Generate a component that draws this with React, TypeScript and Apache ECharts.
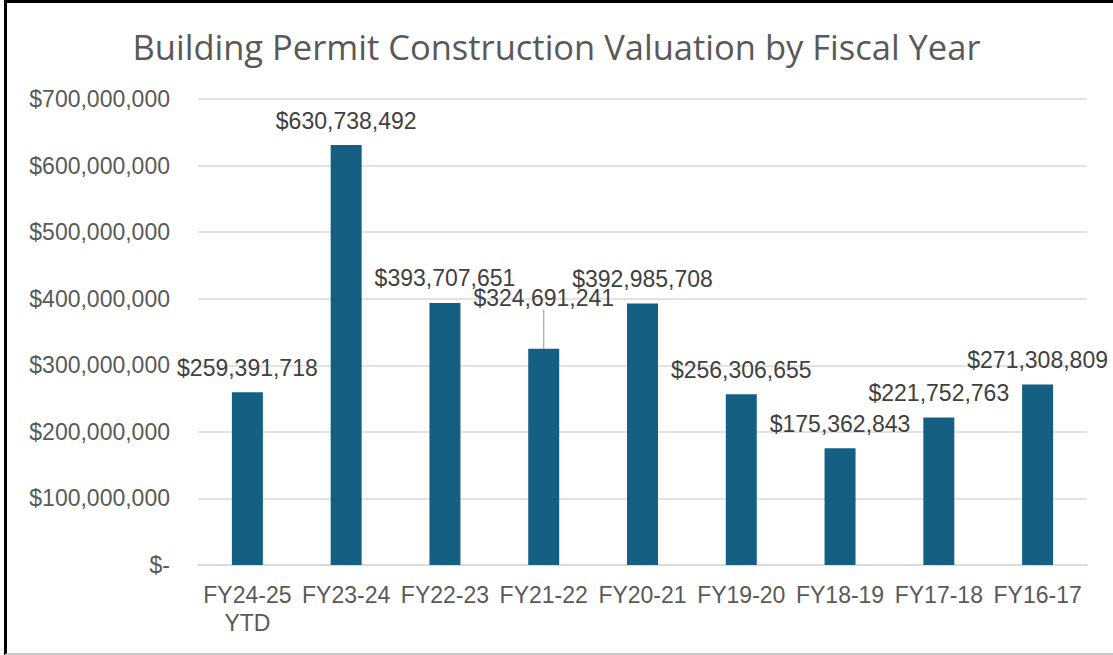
import React, { useEffect, useRef } from "react";
import * as echarts from "echarts";

const categories = ["FY24-25\nYTD", "FY23-24", "FY22-23", "FY21-22", "FY20-21", "FY19-20", "FY18-19", "FY17-18", "FY16-17"];
const values = [259391718, 630738492, 393707651, 324691241, 392985708, 256306655, 175362843, 221752763, 271308809];
const titleText = "Building Permit Construction Valuation by Fiscal Year";
const raisedLabelIndex = 3;

const fmt = (v: number) => (v === 0 ? "$-" : "$" + v.toLocaleString("en-US"));

export default function App() {
  const ref = useRef<HTMLDivElement>(null);
  useEffect(() => {
    const chart = echarts.init(ref.current!, undefined, { renderer: "svg" });
    const data = values.map((v, i) => {
      const item: any = { value: v };
      if (i === raisedLabelIndex) {
        item.labelLine = { show: true, lineStyle: { color: "#a6a6a6", width: 1.2 } };
      }
      return item;
    });
    chart.setOption({
      animation: false,
      backgroundColor: "transparent",
      title: {
        text: titleText,
        left: "center",
        top: 24,
        textStyle: { fontFamily: "Open Sans", fontSize: 34.5, fontWeight: "normal", color: "#595959" },
      },
      grid: { left: 198, right: 26, top: 99, bottom: 90, containLabel: false },
      xAxis: {
        type: "category",
        data: categories,
        axisLine: { show: true, lineStyle: { color: "#d9d9d9", width: 1.5 } },
        axisTick: { show: false },
        axisLabel: { fontFamily: "Liberation Sans", fontSize: 23, color: "#595959", margin: 16, lineHeight: 28, interval: 0 },
      },
      yAxis: {
        type: "value",
        min: 0,
        max: 700000000,
        interval: 100000000,
        axisLine: { show: false },
        axisTick: { show: false },
        splitLine: { lineStyle: { color: "#d9d9d9", width: 1.5 } },
        axisLabel: { fontFamily: "Liberation Sans", fontSize: 23, color: "#595959", margin: 28, formatter: (v: number) => fmt(v) },
      },
      series: [
        {
          type: "bar",
          data,
          barWidth: 31,
          itemStyle: { color: "#156082" },
          label: {
            show: true,
            position: "top",
            distance: 13,
            fontFamily: "Liberation Sans",
            fontSize: 23,
            color: "#404040",
            formatter: (p: any) => fmt(p.value),
          },
          labelLayout: (p: any) => (p.dataIndex === raisedLabelIndex ? { dy: -26 } : {}),
        },
      ],
    });
    return () => chart.dispose();
  }, []);
  return (
    <div
      style={{
        position: "fixed",
        left: 0,
        top: 0,
        width: 1113,
        height: 655,
        background: "#fff",
      }}
    >
      <div ref={ref} style={{ position: "absolute", left: 0, top: 0, width: 1113, height: 655 }} />
      <div
        style={{
          position: "absolute",
          left: 4,
          top: 0,
          right: 0,
          bottom: 0,
          borderLeft: "3px solid #000",
          borderTop: "3px solid #000",
          borderBottom: "2px solid #c8c8c8",
          boxSizing: "border-box",
          pointerEvents: "none",
        }}
      />
    </div>
  );
}
